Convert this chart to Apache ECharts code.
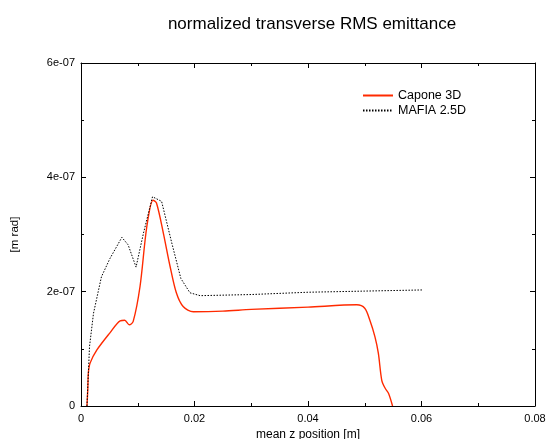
<!DOCTYPE html>
<html>
<head>
<meta charset="utf-8">
<script src="https://cdn.jsdelivr.net/npm/echarts@6/dist/echarts.min.js"></script>
<style>
  html, body { margin: 0; padding: 0; background: #fff; }
  #chart { width: 546px; height: 439px; }
</style>
</head>
<body>
<div id="chart"></div>
<script>
const titleText = "normalized transverse RMS emittance";
const xName = "mean z position [m]";
const yName = "[m rad]";
const seriesNames = ["Capone 3D", "MAFIA 2.5D"];

// z position [m] and emittance [1e-7 m rad]
const caponeZ = [0.00105, 0.0012, 0.0013, 0.0016, 0.0028, 0.0051, 0.0069, 0.0077, 0.0085, 0.0092,
  0.0104, 0.0116, 0.0127, 0.0133, 0.0145, 0.0157, 0.0168, 0.018, 0.0198, 0.025,
  0.03, 0.04, 0.0486, 0.05, 0.0509, 0.0518, 0.0524, 0.053, 0.0536, 0.0542, 0.0549];
const caponeEps = [0, 0.3, 0.58, 0.75, 0.98, 1.28, 1.49, 1.5, 1.42, 1.48,
  2.09, 3.14, 3.6, 3.55, 3.03, 2.44, 1.98, 1.74, 1.65, 1.66,
  1.69, 1.73, 1.77, 1.71, 1.5, 1.21, 0.92, 0.45, 0.31, 0.22, 0];

const mafiaZ = [0.00105, 0.0015, 0.0022, 0.0036, 0.0051, 0.0072, 0.0083, 0.0097, 0.011, 0.0126,
  0.0142, 0.016, 0.0176, 0.0192, 0.021, 0.03, 0.04, 0.05, 0.0601];
const mafiaEps = [0, 1.04, 1.62, 2.26, 2.58, 2.95, 2.82, 2.43, 3.02, 3.66,
  3.58, 2.85, 2.23, 1.98, 1.93, 1.95, 1.99, 2.01, 2.03];

const yTickLabels = ["0", "2e-07", "4e-07", "6e-07"];

function pairs(xs, ys) {
  return xs.map((x, i) => [x, ys[i] * 1e-7]);
}

const font = "'Liberation Sans', Arial, sans-serif";
const axisLine = { show: true, onZero: false, lineStyle: { color: "#000", width: 1 } };
const tick = { show: true, inside: true, length: 5, lineStyle: { color: "#000" } };
const minor = { show: true, splitNumber: 2, length: 3, lineStyle: { color: "#000" } };

const myChart = echarts.init(document.getElementById("chart"));
const option = {
  animation: false,
  backgroundColor: "#fff",
  textStyle: { fontFamily: font },
  title: {
    text: titleText,
    left: 307,
    textAlign: "center",
    top: 11,
    textStyle: { fontFamily: font, fontSize: 17, fontWeight: "normal", color: "#000" }
  },
  legend: {
    orient: "vertical",
    left: 357,
    top: 84,
    itemWidth: 30,
    itemHeight: 10,
    itemGap: 2,
    itemStyle: { opacity: 0 },
    textStyle: { fontFamily: font, fontSize: 12.5, color: "#000" },
    data: seriesNames
  },
  grid: { left: 81, right: 11, top: 63, bottom: 33, containLabel: false, outerBoundsMode: "none" },
  xAxis: [
    {
      type: "value",
      min: 0,
      max: 0.08,
      interval: 0.02,
      name: xName,
      nameLocation: "middle",
      nameGap: 20,
      nameTextStyle: { fontFamily: font, fontSize: 12, color: "#000" },
      axisLine: axisLine,
      axisTick: tick,
      minorTick: minor,
      axisLabel: {
        fontFamily: font, fontSize: 11, color: "#000", margin: 7,
        formatter: v => (v === 0 ? "0" : String(+v.toFixed(2)))
      },
      splitLine: { show: false }
    },
    {
      type: "value",
      position: "top",
      min: 0,
      max: 0.08,
      interval: 0.02,
      axisLine: axisLine,
      axisTick: tick,
      minorTick: minor,
      axisLabel: { show: false },
      splitLine: { show: false }
    }
  ],
  yAxis: [
    {
      type: "value",
      min: 0,
      max: 6e-7,
      interval: 2e-7,
      name: yName,
      nameLocation: "middle",
      nameGap: 60,
      nameTextStyle: { fontFamily: font, fontSize: 11.5, color: "#000" },
      axisLine: axisLine,
      axisTick: tick,
      minorTick: minor,
      axisLabel: {
        fontFamily: font, fontSize: 11, color: "#000", margin: 6,
        formatter: v => yTickLabels[Math.round(v / 2e-7)]
      },
      splitLine: { show: false }
    },
    {
      type: "value",
      position: "right",
      min: 0,
      max: 6e-7,
      interval: 2e-7,
      axisLine: axisLine,
      axisTick: tick,
      minorTick: minor,
      axisLabel: { show: false },
      splitLine: { show: false }
    }
  ],
  series: [
    {
      name: seriesNames[0],
      type: "line",
      symbol: "none",
      smooth: 0.3,
      color: "#ff2a00",
      lineStyle: { color: "#ff2a00", width: 1.4 },
      data: pairs(caponeZ, caponeEps)
    },
    {
      name: seriesNames[1],
      type: "line",
      symbol: "none",
      color: "#000",
      lineStyle: { color: "#000", width: 1, type: [1.5, 1.5] },
      data: pairs(mafiaZ, mafiaEps)
    }
  ]
};
myChart.setOption(option);
</script>
</body>
</html>
